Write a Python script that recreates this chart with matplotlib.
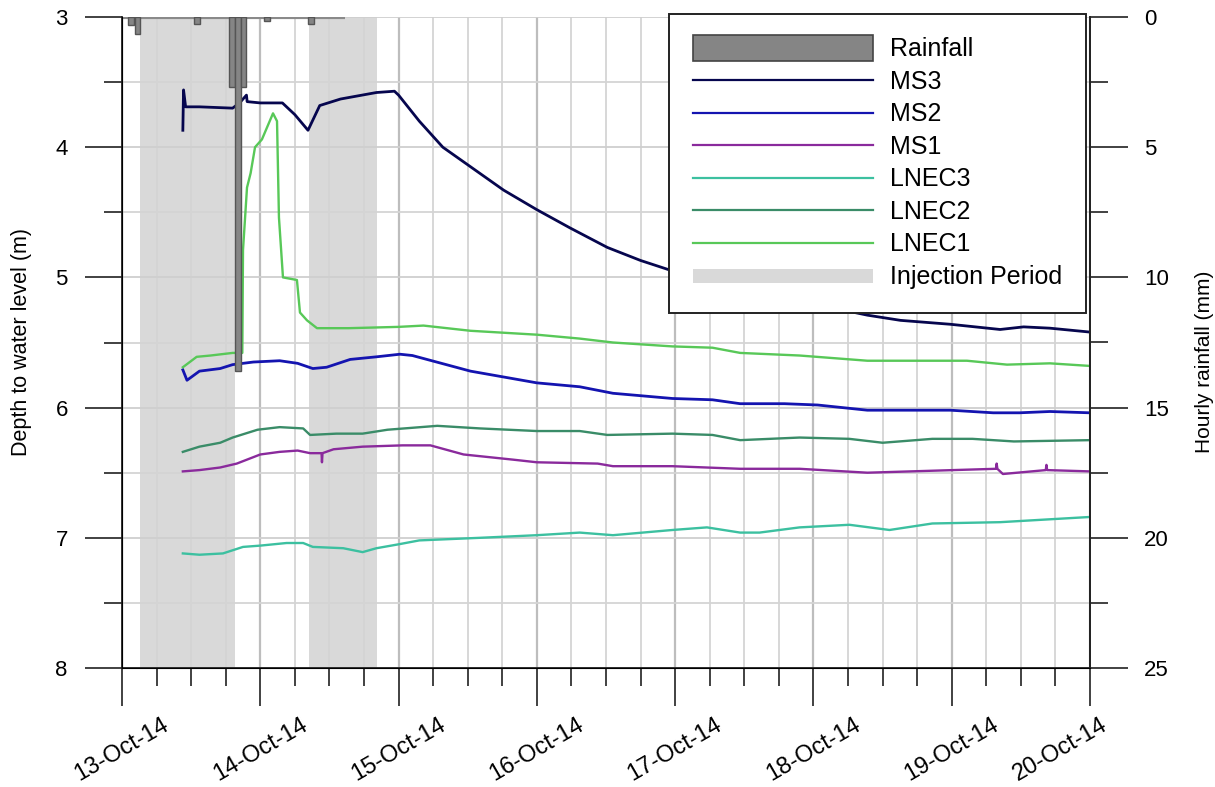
import matplotlib
matplotlib.use('Agg')
import matplotlib.pyplot as plt
import matplotlib.dates as mdates
import matplotlib.transforms as mtransforms
from matplotlib.ticker import MultipleLocator
from matplotlib.patches import Patch, Rectangle
from matplotlib.lines import Line2D
from matplotlib.legend_handler import HandlerPatch
import numpy as np
import pandas as pd

plt.rcParams['font.family'] = ['Liberation Sans', 'DejaVu Sans']

# ---------------- data (time in days since 13-Oct-2014 00:00) ----------------
ms3_t = [0.44, 0.445, 0.46, 0.56, 0.80, 0.85, 0.90, 0.905, 1.00, 1.16, 1.25, 1.345, 1.43,
         1.58, 1.84, 1.97, 2.00, 2.15, 2.32, 2.52, 2.76, 3.00, 3.24, 3.51, 3.75, 3.98,
         4.18, 4.47, 4.78, 5.03, 5.39, 5.63, 5.99, 6.35, 6.52, 6.71, 7.00]
ms3_d = [3.87, 3.56, 3.69, 3.69, 3.70, 3.66, 3.60, 3.65, 3.66, 3.66, 3.75, 3.87, 3.68,
         3.63, 3.58, 3.57, 3.60, 3.80, 4.00, 4.15, 4.33, 4.48, 4.62, 4.77, 4.87, 4.95,
         5.00, 5.11, 5.16, 5.21, 5.29, 5.33, 5.36, 5.40, 5.38, 5.39, 5.42]

ms2_t = [0.44, 0.47, 0.56, 0.71, 0.80, 0.95, 1.14, 1.27, 1.38, 1.48, 1.65, 1.84, 2.01,
         2.10, 2.52, 3.00, 3.31, 3.55, 3.98, 4.27, 4.47, 4.79, 5.03, 5.39, 5.99, 6.30,
         6.49, 6.71, 7.00]
ms2_d = [5.71, 5.79, 5.72, 5.70, 5.67, 5.65, 5.64, 5.66, 5.70, 5.69, 5.63, 5.61, 5.59,
         5.60, 5.72, 5.81, 5.84, 5.89, 5.93, 5.94, 5.97, 5.97, 5.98, 6.02, 6.02, 6.04,
         6.04, 6.03, 6.04]

ms1_t = [0.44, 0.56, 0.71, 0.83, 1.00, 1.14, 1.27, 1.36, 1.443, 1.446, 1.45, 1.53, 1.74,
         2.03, 2.23, 2.47, 2.83, 3.00, 3.44, 3.55, 3.98, 4.47, 4.90, 5.39, 6.32, 6.325,
         6.33, 6.37, 6.68, 6.685, 6.69, 7.00]
ms1_d = [6.49, 6.48, 6.46, 6.43, 6.36, 6.34, 6.33, 6.35, 6.35, 6.42, 6.35, 6.32, 6.30,
         6.29, 6.29, 6.36, 6.40, 6.42, 6.43, 6.45, 6.45, 6.47, 6.47, 6.50, 6.47, 6.43,
         6.47, 6.51, 6.48, 6.44, 6.48, 6.49]

lnec3_t = [0.44, 0.56, 0.73, 0.875, 1.00, 1.19, 1.31, 1.38, 1.60, 1.74, 1.84, 2.00, 2.15,
           2.59, 3.00, 3.31, 3.55, 3.98, 4.23, 4.47, 4.61, 4.90, 5.26, 5.55, 5.86, 6.35,
           7.00]
lnec3_d = [7.12, 7.13, 7.12, 7.07, 7.06, 7.04, 7.04, 7.07, 7.08, 7.11, 7.08, 7.05, 7.02,
           7.00, 6.98, 6.96, 6.98, 6.94, 6.92, 6.96, 6.96, 6.92, 6.90, 6.94, 6.89, 6.88,
           6.84]

lnec2_t = [0.44, 0.56, 0.71, 0.80, 0.98, 1.14, 1.31, 1.36, 1.55, 1.74, 1.92, 2.16, 2.28,
           2.59, 3.00, 3.31, 3.51, 3.98, 4.27, 4.47, 4.90, 5.26, 5.50, 5.86, 6.15, 6.45,
           7.00]
lnec2_d = [6.34, 6.30, 6.27, 6.23, 6.17, 6.15, 6.16, 6.21, 6.20, 6.20, 6.17, 6.15, 6.14,
           6.16, 6.18, 6.18, 6.21, 6.20, 6.21, 6.25, 6.23, 6.24, 6.27, 6.24, 6.24, 6.26,
           6.25]

lnec1_t = [0.44, 0.54, 0.64, 0.80, 0.870, 0.875, 0.904, 0.93, 0.962, 1.012, 1.048, 1.092,
           1.121, 1.135, 1.164, 1.265, 1.287, 1.338, 1.41, 1.64, 2.00, 2.18, 2.52, 3.00,
           3.31, 3.55, 3.98, 4.27, 4.47, 4.90, 5.39, 6.11, 6.40, 6.71, 7.00]
lnec1_d = [5.69, 5.61, 5.60, 5.58, 5.58, 4.79, 4.31, 4.20, 4.00, 3.94, 3.85, 3.74,
           3.80, 4.54, 5.00, 5.02, 5.27, 5.33, 5.39, 5.39, 5.38, 5.37, 5.41, 5.44,
           5.47, 5.50, 5.53, 5.54, 5.58, 5.60, 5.64, 5.64, 5.67, 5.66, 5.68]

# hourly rainfall (start hour since 13-Oct 00:00, mm)
rain_start_h = [1.0, 2.2, 12.5, 18.6, 19.6, 20.6, 24.6, 32.3]
rain_mm = [0.3, 0.65, 0.27, 2.7, 13.6, 2.7, 0.15, 0.27]
rain_record_h = [0.0, 38.7]

inj_start = ['2014-10-13 03:05', '2014-10-14 08:27']
inj_end = ['2014-10-13 19:35', '2014-10-14 20:15']

series = [('MS3', ms3_t, ms3_d, '#06064e'),
          ('MS2', ms2_t, ms2_d, '#1414b0'),
          ('MS1', ms1_t, ms1_d, '#8a2a9c'),
          ('LNEC3', lnec3_t, lnec3_d, '#3cc0a0'),
          ('LNEC2', lnec2_t, lnec2_d, '#3a8c68'),
          ('LNEC1', lnec1_t, lnec1_d, '#58c858')]

base = pd.Timestamp('2014-10-13')


def to_time(days):
    return base + pd.to_timedelta(np.asarray(days, dtype=float), unit='D')


# ---------------- figure ----------------
fig = plt.figure(figsize=(12.15, 7.87), dpi=100)
ax = fig.add_axes([122 / 1215, 119 / 787, 968 / 1215, 651 / 787])

for s, e in zip(inj_start, inj_end):
    ax.axvspan(pd.Timestamp(s), pd.Timestamp(e), color='#d9d9d9', lw=0, zorder=0.4)

for name, t, d, c in series:
    ax.plot(to_time(t), d, color=c, lw=2.0 if name in ('MS3', 'MS2') else 1.7, zorder=2)

ax.set_xlim(base, base + pd.Timedelta(days=7))
ax.set_ylim(8, 3)
ax.xaxis.set_major_locator(mdates.DayLocator())
ax.xaxis.set_minor_locator(mdates.HourLocator(byhour=[6, 12, 18]))
ax.xaxis.set_major_formatter(mdates.DateFormatter('%d-%b-%y'))
ax.yaxis.set_major_locator(MultipleLocator(1))
ax.yaxis.set_minor_locator(MultipleLocator(0.5))

ax.set_axisbelow('line')
ax.grid(which='minor', color='#d4d4d4', lw=1.3)
ax.grid(which='major', axis='x', color='#bdbdbd', lw=1.6)
ax.grid(which='major', axis='y', color='#cfcfcf', lw=1.3)

ax.tick_params(which='major', length=27, width=1.3, color='#333333', labelsize=16, pad=12)
ax.tick_params(which='minor', length=13, width=1.3, color='#333333')
ax.tick_params(axis='x', which='major', labelsize=17, pad=6)
for lab in ax.get_xticklabels():
    lab.set_rotation(30)
    lab.set_ha('center')

ax.spines['top'].set_visible(False)
for sp in ('left', 'bottom', 'right'):
    ax.spines[sp].set_linewidth(1.3)
    ax.spines[sp].set_color('#222222')

ax.set_ylabel('Depth to water level (m)', fontsize=15.5)
ax.yaxis.set_label_coords(-0.093, 0.5)

# ---------------- rainfall axis ----------------
ax2 = ax.twinx()
ax2.set_ylim(25, 0)
ax2.yaxis.set_major_locator(MultipleLocator(5))
ax2.yaxis.set_minor_locator(MultipleLocator(2.5))
ax2.tick_params(which='major', length=27, width=1.3, color='#333333', labelsize=16, pad=12)
ax2.tick_params(which='minor', length=13, width=1.3, color='#333333')
ax2.spines['top'].set_visible(False)
ax2.spines['right'].set_linewidth(1.3)
ax2.spines['right'].set_color('#222222')
ax2.set_ylabel('Hourly rainfall (mm)', fontsize=15)
ax2.yaxis.set_label_coords(1.108, 0.47)

ax2.hlines(0, to_time([rain_record_h[0] / 24])[0], to_time([rain_record_h[1] / 24])[0],
           color='#8a8a8a', lw=3, zorder=2)
ax2.bar(to_time(np.array(rain_start_h) / 24), rain_mm, width=1 / 24, align='edge',
        color='#858585', edgecolor='#555555', lw=1.0, zorder=3)
ax.set_xlim(base, base + pd.Timedelta(days=7))

# ---------------- legend ----------------
def tall_patch(legend, orig_handle, xdescent, ydescent, width, height, fontsize):
    return Rectangle((-xdescent, -ydescent - 0.25 * height), width, height * 1.5)


def flat_patch(legend, orig_handle, xdescent, ydescent, width, height, fontsize):
    return Rectangle((-xdescent, -ydescent + 0.05 * height), width, height * 0.8)


rain_h = Patch(facecolor='#858585', edgecolor='#444444', lw=1.2, label='Rainfall')
inj_h = Patch(facecolor='#d9d9d9', edgecolor='none', label='Injection Period')
handles = [rain_h] + [Line2D([], [], color=c, lw=1.6, label=n) for n, _, _, c in series] + [inj_h]
leg = ax2.legend(handles=handles, loc='upper right', bbox_to_anchor=(0.996, 1.005),
                 borderaxespad=0, fontsize=18, handlelength=7.2, handletextpad=0.7,
                 labelspacing=0.34, borderpad=0.95, fancybox=False, framealpha=1,
                 edgecolor='#222222',
                 handler_map={rain_h: HandlerPatch(patch_func=tall_patch),
                              inj_h: HandlerPatch(patch_func=flat_patch)})
leg.get_frame().set_linewidth(1.4)

# last date label sits shifted left, as in the original
fig.canvas.draw()
last_tick = ax.xaxis.get_major_ticks()[-1]
last_tick.label1.set_transform(last_tick.label1.get_transform() +
                               mtransforms.ScaledTranslation(-0.3, 0, fig.dpi_scale_trans))

fig.savefig('out.png', dpi=100)
